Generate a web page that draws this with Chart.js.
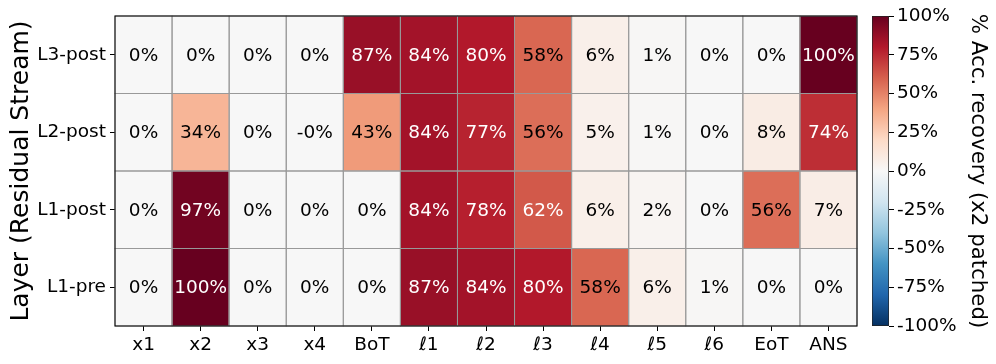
<!DOCTYPE html>
<html>
<head>
<meta charset="utf-8">
<script src="https://cdn.jsdelivr.net/npm/chart.js@4"></script>
<style>
  html, body { margin: 0; padding: 0; background: #fff; }
  #wrap { position: relative; width: 996px; height: 364px; }
  canvas { position: absolute; top: 0; }
</style>
</head>
<body>
<div id="wrap">
  <canvas id="heat" width="870" height="364" style="left:0"></canvas>
  <canvas id="cbar" width="136" height="364" style="left:860px"></canvas>
</div>
<script>
// rows listed bottom to top
const rowLabels = ['L1-pre', 'L1-post', 'L2-post', 'L3-post'];
const colLabels = ['x1', 'x2', 'x3', 'x4', 'BoT', 'ℓ1', 'ℓ2', 'ℓ3', 'ℓ4', 'ℓ5', 'ℓ6', 'EoT', 'ANS'];

const l1pre  = [0, 100, 0, 0, 0, 87, 84, 80, 58, 6, 1, 0, 0];
const l1post = [0, 97, 0, 0, 0, 84, 78, 62, 6, 2, 0, 56, 7];
const l2post = [0, 34, 0, -0, 43, 84, 77, 56, 5, 1, 0, 8, 74];
const l3post = [0, 0, 0, 0, 87, 84, 80, 58, 6, 1, 0, 0, 100];

const cbTicks = [-100, -75, -50, -25, 0, 25, 50, 75, 100];

const rows = [l1pre, l1post, l2post, l3post];
const FONT = 'DejaVu Sans';

// RdBu_r, -100 .. 100
const cmap = ['#053061', '#2166ac', '#4393c3', '#92c5de', '#d1e5f0', '#f7f7f7',
              '#fddbc7', '#f4a582', '#d6604d', '#b2182b', '#67001f'];

function hex(h) {
  return [1, 3, 5].map(i => parseInt(h.slice(i, i + 2), 16));
}

function colorFor(v) {
  const t = Math.max(0, Math.min(10, (v + 100) / 200 * 10));
  const i = Math.min(9, Math.floor(t));
  const f = t - i;
  const a = hex(cmap[i]), b = hex(cmap[i + 1]);
  const c = a.map((x, k) => Math.round(x + (b[k] - x) * f));
  return `rgb(${c[0]},${c[1]},${c[2]})`;
}

function pct(v) {
  return (Object.is(v, -0) ? '-0' : String(v)) + '%';
}

const cellPlugin = {
  id: 'cells',
  afterDatasetsDraw(chart) {
    const ctx = chart.ctx;
    const area = chart.chartArea;
    ctx.save();
    // cell edges
    ctx.strokeStyle = '#999';
    ctx.lineWidth = 1;
    chart.data.datasets.forEach((ds, i) => {
      chart.getDatasetMeta(i).data.forEach(bar => {
        const top = Math.min(bar.y, bar.base);
        ctx.strokeRect(bar.x - bar.width / 2, top, bar.width, Math.abs(bar.base - bar.y));
      });
    });
    // values
    ctx.font = `18.5px "${FONT}"`;
    ctx.textAlign = 'center';
    ctx.textBaseline = 'middle';
    chart.data.datasets.forEach((ds, i) => {
      chart.getDatasetMeta(i).data.forEach((bar, j) => {
        const v = rows[i][j];
        const p = bar.getCenterPoint();
        ctx.fillStyle = v >= 60 ? '#fff' : '#000';
        ctx.fillText(pct(v), p.x, p.y + 1);
      });
    });
    // frame
    ctx.strokeStyle = '#000';
    ctx.strokeRect(area.left, area.top, area.width, area.height);
    ctx.restore();
  }
};

new Chart(document.getElementById('heat'), {
  type: 'bar',
  data: {
    labels: colLabels,
    datasets: rows.map((vals, r) => ({
      data: vals.map(() => [r, r + 1]),
      backgroundColor: vals.map(colorFor),
      borderWidth: 0,
      barPercentage: 1,
      categoryPercentage: 1,
      grouped: false
    }))
  },
  options: {
    responsive: false,
    animation: false,
    events: [],
    layout: { padding: { top: 16, right: 13, left: 0, bottom: 0 } },
    plugins: { legend: { display: false }, tooltip: { enabled: false } },
    scales: {
      x: {
        afterFit: s => { s.height = 38; },
        grid: { offset: false, drawOnChartArea: false, tickLength: 5, color: '#000' },
        border: { display: false },
        ticks: { color: '#000', font: { family: FONT, size: 18.5 }, padding: 3, maxRotation: 0 }
      },
      y: {
        min: 0,
        max: 4,
        afterFit: s => { s.width = 115; },
        afterBuildTicks: s => { s.ticks = rowLabels.map((_, i) => ({ value: i + 0.5 })); },
        grid: { drawOnChartArea: false, tickLength: 5, color: '#000' },
        border: { display: false },
        ticks: {
          color: '#000',
          font: { family: FONT, size: 18.5 },
          padding: 4,
          callback: (v, i) => rowLabels[i]
        },
        title: {
          display: true,
          text: 'Layer (Residual Stream)',
          color: '#000',
          font: { family: FONT, size: 25 },
          padding: { top: 6, bottom: 0 }
        }
      }
    }
  },
  plugins: [cellPlugin]
});

new Chart(document.getElementById('cbar'), {
  type: 'bar',
  data: {
    labels: [''],
    datasets: [{
      data: [[cbTicks[0], cbTicks[cbTicks.length - 1]]],
      backgroundColor: c => {
        const chart = c.chart;
        if (!chart.chartArea) return null;
        const y = chart.scales.y;
        const g = chart.ctx.createLinearGradient(0, y.getPixelForValue(-100), 0, y.getPixelForValue(100));
        cmap.forEach((col, i) => g.addColorStop(i / 10, col));
        return g;
      },
      borderColor: '#222',
      borderWidth: 1,
      borderSkipped: false,
      barPercentage: 1,
      categoryPercentage: 1
    }]
  },
  options: {
    responsive: false,
    animation: false,
    events: [],
    layout: { padding: { top: 16, right: 0, left: 12, bottom: 38 } },
    plugins: { legend: { display: false }, tooltip: { enabled: false } },
    scales: {
      x: { display: false },
      y: {
        position: 'right',
        min: -100,
        max: 100,
        afterFit: s => { s.width = 107; },
        afterBuildTicks: s => { s.ticks = cbTicks.map(v => ({ value: v })); },
        grid: { drawOnChartArea: false, tickLength: 5, color: '#000' },
        border: { display: false },
        ticks: {
          color: '#000',
          font: { family: FONT, size: 18.5 },
          padding: 3,
          callback: v => v + '%'
        },
        title: {
          display: true,
          text: '% Acc. recovery (x2 patched)',
          color: '#000',
          font: { family: FONT, size: 21.3 },
          padding: { top: 6, bottom: 0 }
        }
      }
    }
  }
});
</script>
</body>
</html>
